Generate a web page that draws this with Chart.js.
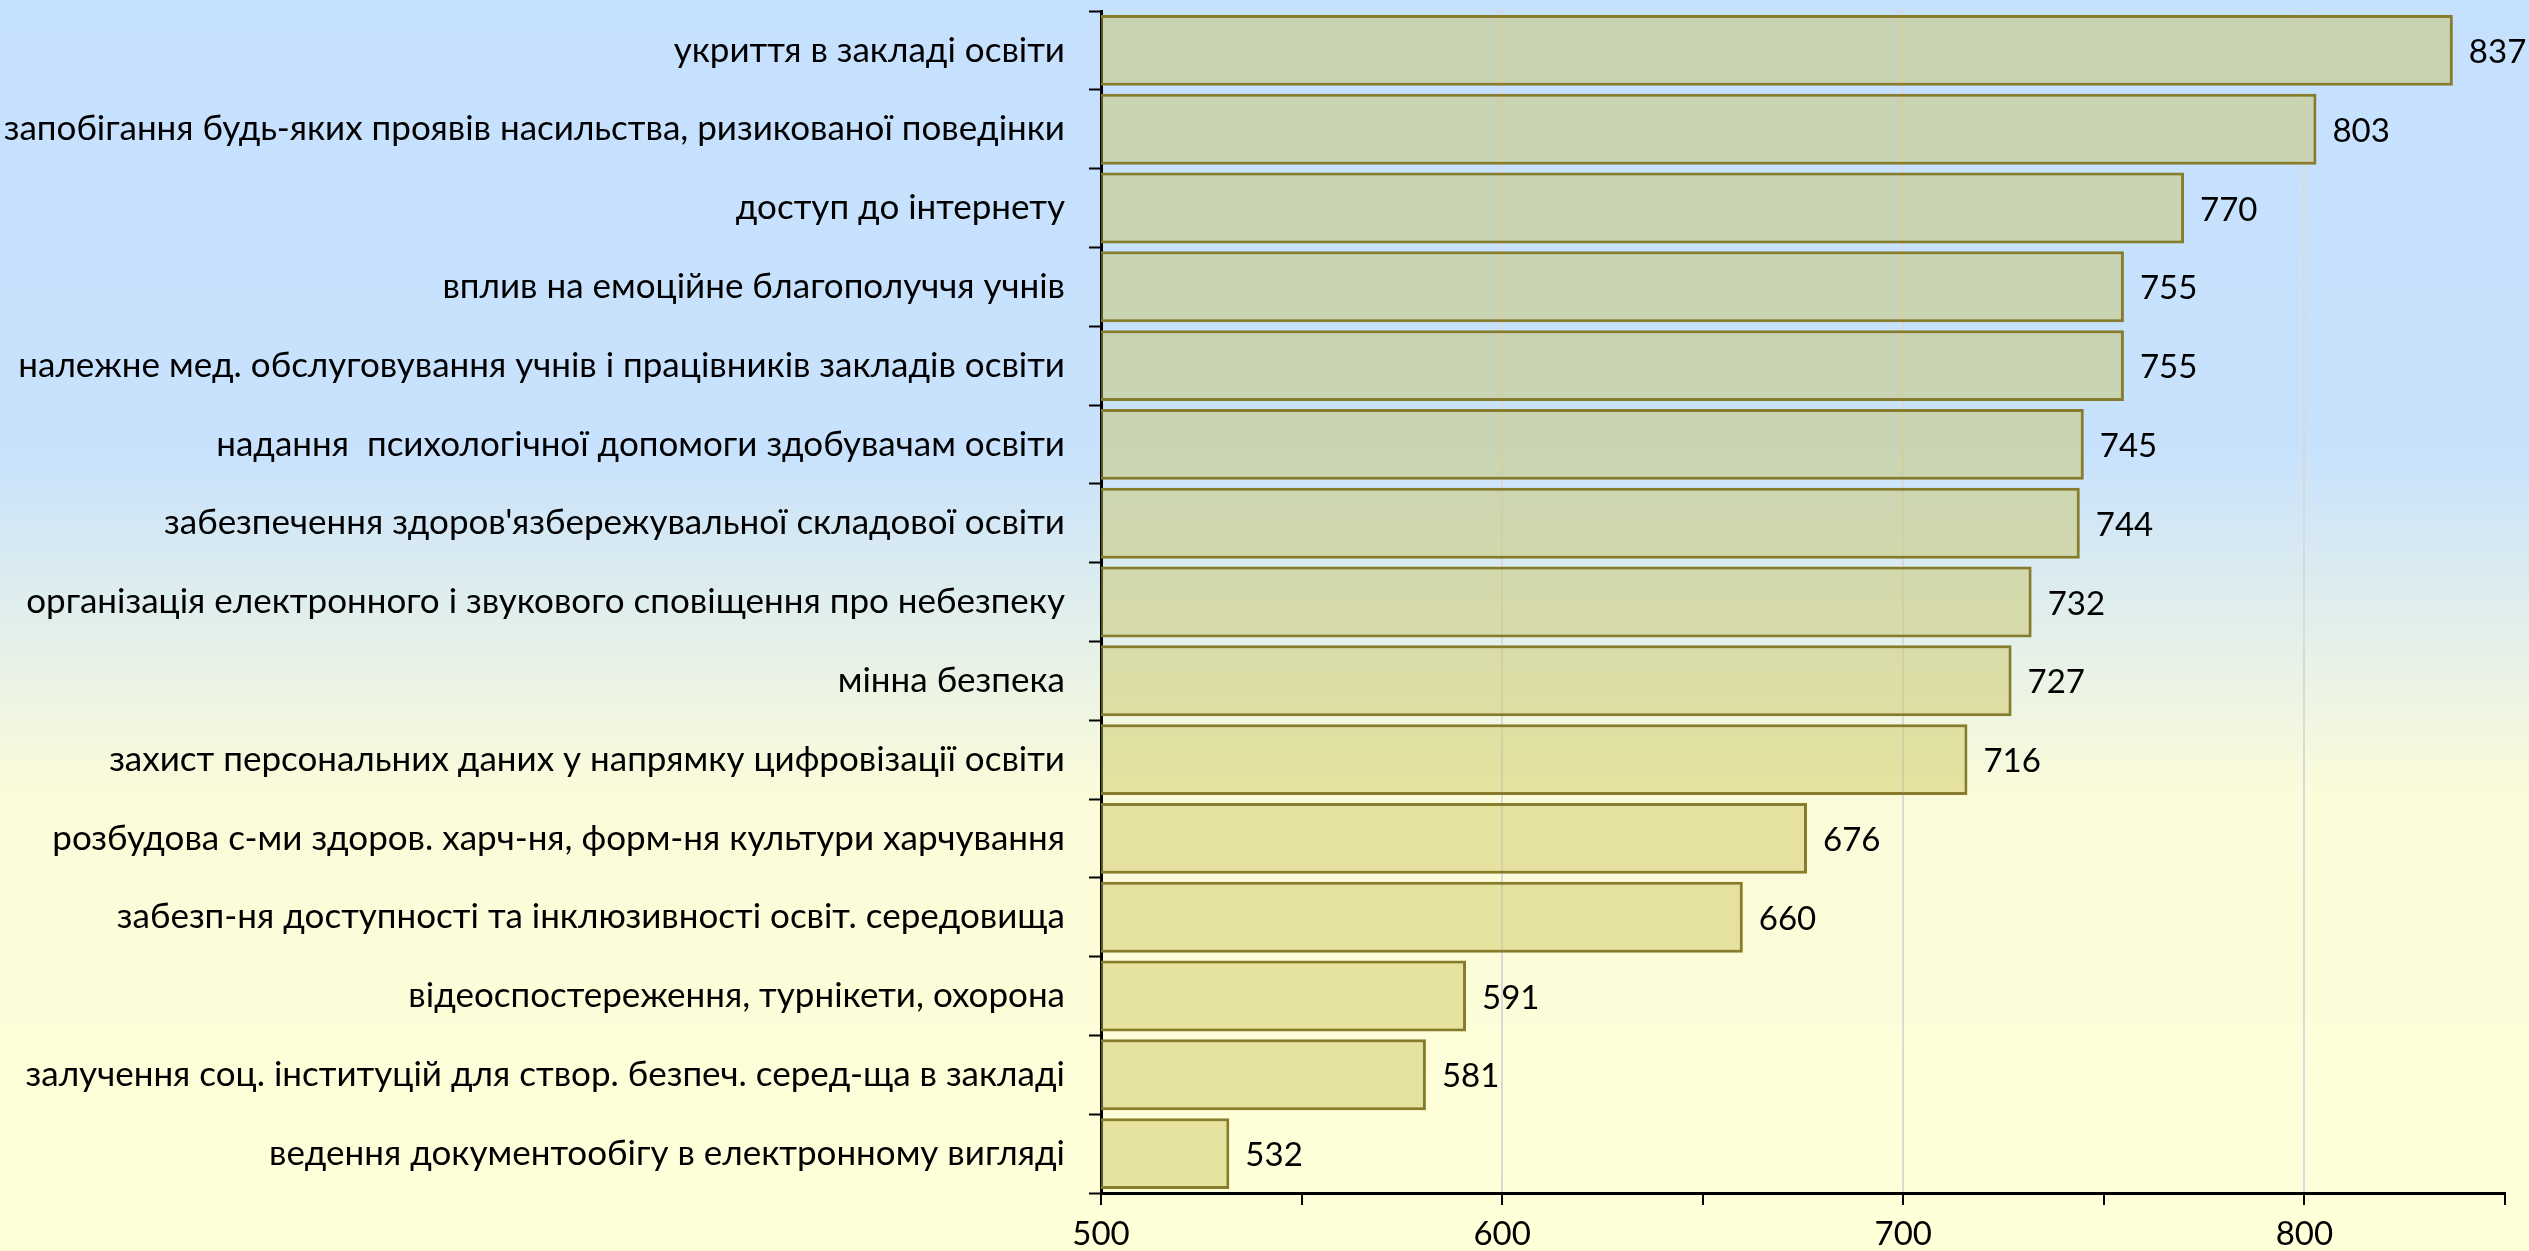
<!DOCTYPE html>
<html>
<head>
<meta charset="utf-8">
<script src="https://cdn.jsdelivr.net/npm/chart.js@4/dist/chart.umd.min.js"></script>
<style>
  html, body { margin: 0; padding: 0; background: #ffffd8; }
  #wrap { width: 2529px; height: 1251px; }
</style>
</head>
<body>
<div id="wrap"><canvas id="c" width="2529" height="1251"></canvas></div>
<script>
const categories = [
  "укриття в закладі освіти",
  "запобігання будь-яких проявів насильства, ризикованої поведінки",
  "доступ до інтернету",
  "вплив на емоційне благополуччя учнів",
  "належне мед. обслуговування учнів і працівників закладів освіти",
  "надання  психологічної допомоги здобувачам освіти",
  "забезпечення здоров'язбережувальної складової освіти",
  "організація електронного і звукового сповіщення про небезпеку",
  "мінна безпека",
  "захист персональних даних у напрямку цифровізації освіти",
  "розбудова с-ми здоров. харч-ня, форм-ня культури харчування",
  "забезп-ня доступності та інклюзивності освіт. середовища",
  "відеоспостереження, турнікети, охорона",
  "залучення соц. інституцій для створ. безпеч. серед-ща в закладі",
  "ведення документообігу в електронному вигляді"
];
const values = [837, 803, 770, 755, 755, 745, 744, 732, 727, 716, 676, 660, 591, 581, 532];
const xTickLabels = [500, 600, 700, 800];
const xMin = 500, xMax = 850, xStep = 50;

const FONT = "Lato, 'Noto Sans', sans-serif";

const bgPlugin = {
  id: 'bg',
  beforeDraw(chart) {
    const ctx = chart.ctx;
    const h = chart.height;
    const g = ctx.createLinearGradient(0, 0, 0, h);
    g.addColorStop(0, '#c6e1fe');
    g.addColorStop(0.36, '#c8e2fd');
    g.addColorStop(0.63, '#fbfbda');
    g.addColorStop(1, '#ffffd8');
    ctx.save();
    ctx.fillStyle = g;
    ctx.fillRect(0, 0, chart.width, h);
    ctx.restore();
  }
};

const valueLabels = {
  id: 'valueLabels',
  afterDatasetsDraw(chart) {
    const ctx = chart.ctx;
    const meta = chart.getDatasetMeta(0);
    ctx.save();
    ctx.font = "33px " + FONT;
    ctx.fillStyle = '#000';
    ctx.textAlign = 'left';
    ctx.textBaseline = 'middle';
    meta.data.forEach((bar, i) => {
      ctx.fillText(String(chart.data.datasets[0].data[i]), bar.x + 16, bar.y + 2);
    });
    ctx.restore();
  }
};

new Chart(document.getElementById('c'), {
  type: 'bar',
  data: {
    labels: categories,
    datasets: [{
      data: values,
      backgroundColor: 'rgba(202,195,92,0.45)',
      borderColor: '#877c2b',
      borderWidth: 3,
      borderSkipped: false,
      categoryPercentage: 0.9,
      barPercentage: 1.0
    }]
  },
  options: {
    indexAxis: 'y',
    responsive: false,
    animation: false,
    devicePixelRatio: 1,
    layout: { padding: { top: 11, right: 24, left: 0, bottom: 0 } },
    plugins: { legend: { display: false }, tooltip: { enabled: false } },
    scales: {
      x: {
        type: 'linear',
        min: xMin, max: xMax,
        afterFit(scale) { scale.height = 58; scale.paddingLeft = 0; scale.paddingRight = 0; },
        ticks: {
          stepSize: xStep,
          color: '#000',
          font: { family: FONT, size: 33 },
          padding: 10,
          maxRotation: 0,
          autoSkip: false,
          callback: (v) => xTickLabels.includes(v) ? String(v) : ''
        },
        grid: {
          color: (ctx) => (ctx.tick && xTickLabels.includes(ctx.tick.value) && ctx.tick.value !== xMin) ? '#d9d9d9' : 'rgba(0,0,0,0)',
          tickColor: '#000',
          tickLength: 12,
          lineWidth: 2,
          tickWidth: 2
        },
        border: { color: '#000', width: 3 }
      },
      y: {
        afterFit(scale) { scale.width = 1101; scale.paddingTop = 0; scale.paddingBottom = 0; },
        ticks: {
          color: '#000',
          font: { family: FONT, size: 35 },
          padding: 24,
          autoSkip: false
        },
        grid: {
          color: 'rgba(0,0,0,0)',
          drawOnChartArea: false,
          tickColor: '#000',
          tickLength: 12,
          tickWidth: 2
        },
        border: { color: '#000', width: 3 }
      }
    }
  },
  plugins: [bgPlugin, valueLabels]
});
</script>
</body>
</html>
